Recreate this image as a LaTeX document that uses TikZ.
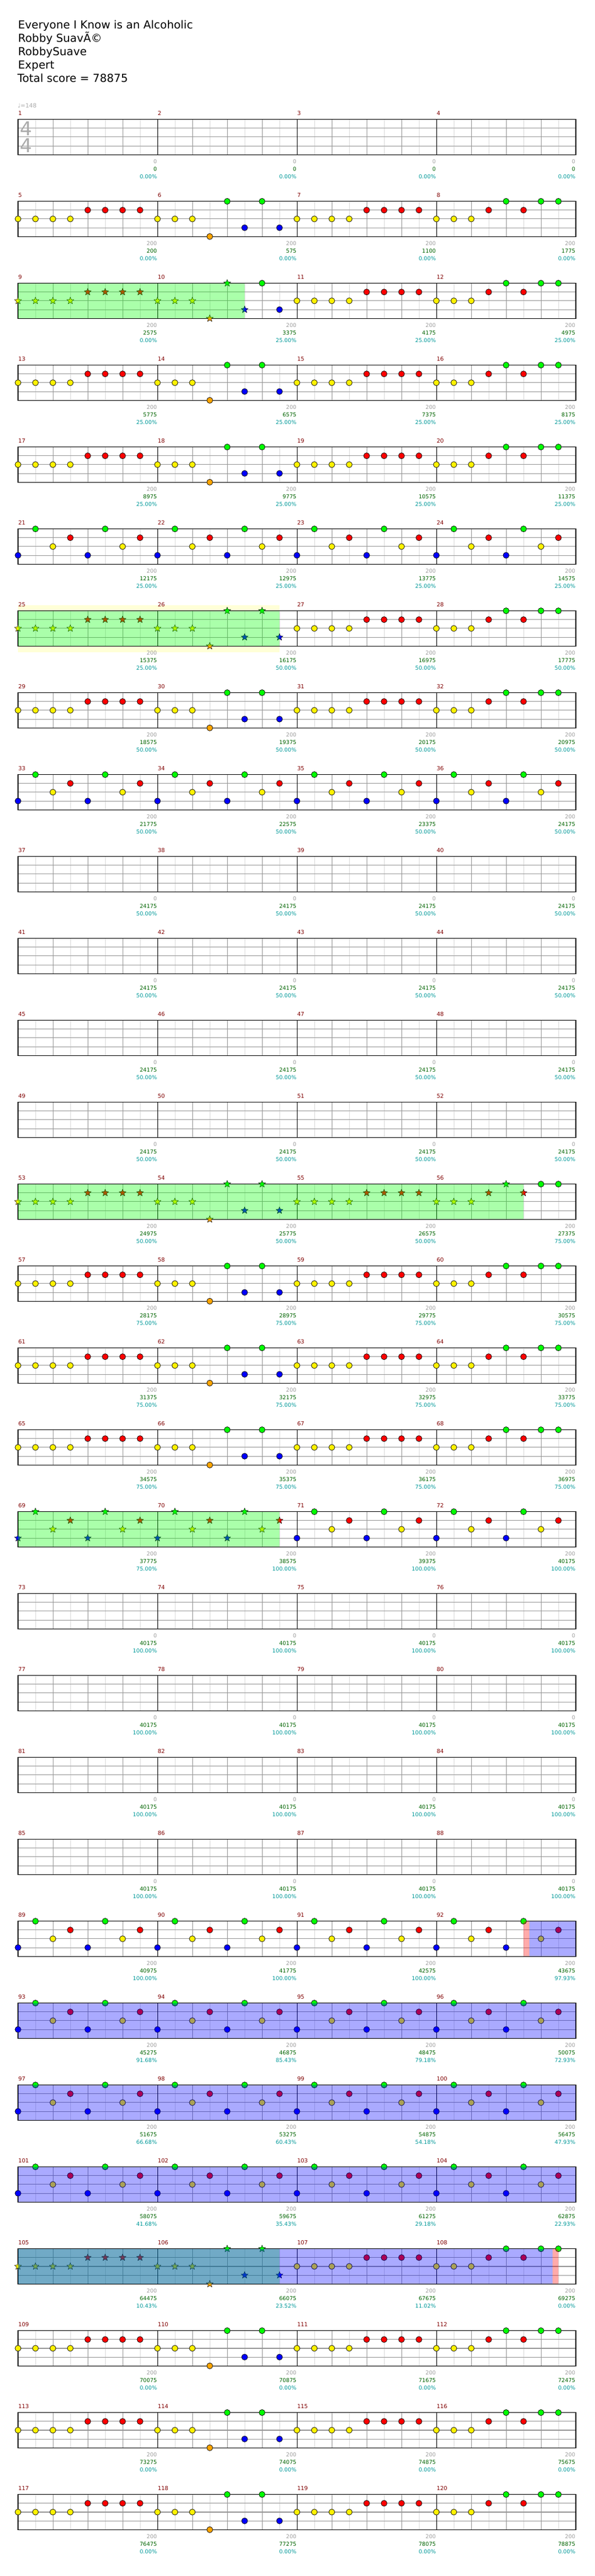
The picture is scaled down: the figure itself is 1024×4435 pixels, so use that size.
\documentclass[tikz,border=0pt]{standalone}
\usepackage{fontspec}
\setmainfont{DejaVu Sans}
\usepackage{tikz}
\usetikzlibrary{shapes.geometric}

\definecolor{barred}{RGB}{128,0,0}
\definecolor{maxgrey}{RGB}{160,160,160}
\definecolor{scoregreen}{RGB}{0,100,0}
\definecolor{pctteal}{RGB}{0,153,153}
\definecolor{gridgrey}{RGB}{150,150,150}
\definecolor{subgrey}{RGB}{218,218,218}
\definecolor{markgrey}{RGB}{170,170,170}
\definecolor{activeyellow}{RGB}{255,255,215}
\colorlet{lane0}{green}
\colorlet{lane1}{red}
\colorlet{lane2}{yellow}
\colorlet{lane3}{blue}
\definecolor{lane4}{RGB}{255,165,0}

% note patterns: eighth/lane
\newcommand{\patA}{0/2,1/2,2/2,3/2,4/1,5/1,6/1,7/1}
\newcommand{\patB}{0/2,1/2,2/2,3/4,4/0,5/3,6/0,7/3}
\newcommand{\patD}{0/2,1/2,2/2,3/1,4/0,5/1,6/0,7/0}
\newcommand{\patE}{0/3,1/0,2/2,3/1,4/3,5/0,6/2,7/1}

% one measure: number, pattern, stars up to, max, score, percent
\newcommand{\measure}[6]{%
  \pgfmathtruncatemacro{\rw}{(#1-1)/4}%
  \pgfmathtruncatemacro{\col}{#1-1-4*\rw}%
  \pgfmathsetmacro{\xl}{31+240*\col}%
  \pgfmathsetmacro{\xr}{\xl+239.3}%
  \pgfmathsetmacro{\yt}{205.6+141*\rw}%
  \pgfmathsetmacro{\yb}{\yt+60.6}%
  \node[barnum] (num#1) at ({\xl+0.3},{\yt-7.3}) {#1};%
  \node[maxlbl] (mx#1) at ({\xr},{\yb+15.4}) {#4};%
  \node[scorelbl] (sc#1) at ({\xr},{\yb+28.4}) {#5};%
  \node[pctlbl] (pc#1) at ({\xr},{\yb+41.6}) {#6\%};%
  \if#2N\else
    \edef\plist{\csname pat#2\endcsname}%
    \foreach \e/\lane in \plist {%
      \pgfmathsetmacro{\nx}{\xl+30*\e}%
      \pgfmathsetmacro{\ny}{\yt+15.15*\lane}%
      \ifnum\e<#3\relax
        \node[stargem, fill=lane\lane] (g#1-\e) at (\nx,\ny) {};%
      \else
        \node[gem, fill=lane\lane] (g#1-\e) at (\nx,\ny) {};%
      \fi
    }%
  \fi
}

\newcommand{\overlayband}[4]{%
  \fill[#1, opacity=0.333] (#3,{205.6+141*#2}) rectangle (#4,{266.2+141*#2});}

\begin{document}
\begin{tikzpicture}[x=1pt, y=-1pt,
    titletext/.style={anchor=base west, inner sep=0pt, font=\fontsize{19}{23}\selectfont},
    tempotext/.style={anchor=base west, inner sep=0pt, text=markgrey, font=\fontsize{10}{11}\selectfont},
    timesig/.style={inner sep=0pt, text=markgrey, font=\fontsize{33}{34}\selectfont},
    barnum/.style={anchor=base west, inner sep=0pt, text=barred, font=\fontsize{9.6}{10}\selectfont},
    maxlbl/.style={anchor=base east, inner sep=0pt, text=maxgrey, font=\fontsize{9.3}{10}\selectfont},
    scorelbl/.style={anchor=base east, inner sep=0pt, text=scoregreen, font=\fontsize{9.3}{10}\selectfont},
    pctlbl/.style={anchor=base east, inner sep=0pt, text=pctteal, font=\fontsize{9.3}{10}\selectfont},
    gem/.style={circle, draw=black, line width=0.7pt, minimum size=10.3pt, inner sep=0pt},
    stargem/.style={star, star points=5, star point ratio=2.3, draw=black, line width=0.5pt, minimum size=12.5pt, inner sep=0pt},
    subline/.style={subgrey, line width=0.8pt},
    beatline/.style={gridgrey, line width=0.9pt},
    laneline/.style={gridgrey, line width=1.1pt},
    barline/.style={black, line width=0.9pt},
    staffbox/.style={black, line width=1.2pt}]
  \useasboundingbox[fill=white] (0,0) rectangle (1024,4435);

  % header
  \node[titletext] (title) at (31,49.3) {Everyone I Know is an Alcoholic};
  \node[titletext] (artist) at (31,72.3) {Robby SuavÃ©};
  \node[titletext] (charter) at (31,95.5) {RobbySuave};
  \node[titletext] (level) at (31,118.5) {Expert};
  \node[titletext] (total) at (30,141.3) {Total score = 78875};
  \node[tempotext] (tempo) at (30.5,185.3) {♩=148};

  % activation highlight, staff itself stays white
  \fill[activeyellow] (31,1041.6) rectangle (481,1123.2);
  \fill[white] (31,1051.6) rectangle (481,1112.2);

  % staves
  \foreach \rw in {0,...,29}{
    \pgfmathsetmacro{\yt}{205.6+141*\rw}
    \pgfmathsetmacro{\yb}{\yt+60.6}
    \foreach \i in {1,3,...,31}
      \draw[subline] ({31+30*\i},\yt) -- ({31+30*\i},\yb);
    \foreach \i in {1,...,15}
      \draw[beatline] ({31+60*\i},\yt) -- ({31+60*\i},\yb);
    \foreach \j in {1,2,3}
      \draw[laneline] (31,{\yt+15.15*\j}) -- (991,{\yt+15.15*\j});
    \foreach \i in {1,2,3}
      \draw[barline] ({31+240*\i},\yt) -- ({31+240*\i},\yb);
    \draw[staffbox] (31,\yt) rectangle (991,\yb);
  }

  \node[timesig] (tsup) at (44.5,221) {4};
  \node[timesig] (tslow) at (44.5,250.5) {4};

  % empty measures
  \foreach \mn in {1,...,4} {\measure{\mn}{N}{0}{0}{0}{0.00}}
  \foreach \mn in {37,...,52} {\measure{\mn}{N}{0}{0}{24175}{50.00}}
  \foreach \mn in {73,...,88} {\measure{\mn}{N}{0}{0}{40175}{100.00}}

  % measures with notes
  \foreach \mn/\pat/\st/\mx/\sc/\pc in {
    5/A/0/200/200/0.00, 6/B/0/200/575/0.00, 7/A/0/200/1100/0.00, 8/D/0/200/1775/0.00,
    9/A/8/200/2575/0.00, 10/B/6/200/3375/25.00, 11/A/0/200/4175/25.00, 12/D/0/200/4975/25.00,
    13/A/0/200/5775/25.00, 14/B/0/200/6575/25.00, 15/A/0/200/7375/25.00, 16/D/0/200/8175/25.00,
    17/A/0/200/8975/25.00, 18/B/0/200/9775/25.00, 19/A/0/200/10575/25.00, 20/D/0/200/11375/25.00,
    21/E/0/200/12175/25.00, 22/E/0/200/12975/25.00, 23/E/0/200/13775/25.00, 24/E/0/200/14575/25.00,
    25/A/8/200/15375/25.00, 26/B/8/200/16175/50.00, 27/A/0/200/16975/50.00, 28/D/0/200/17775/50.00,
    29/A/0/200/18575/50.00, 30/B/0/200/19375/50.00, 31/A/0/200/20175/50.00, 32/D/0/200/20975/50.00,
    33/E/0/200/21775/50.00, 34/E/0/200/22575/50.00, 35/E/0/200/23375/50.00, 36/E/0/200/24175/50.00,
    53/A/8/200/24975/50.00, 54/B/8/200/25775/50.00, 55/A/8/200/26575/50.00, 56/D/6/200/27375/75.00,
    57/A/0/200/28175/75.00, 58/B/0/200/28975/75.00, 59/A/0/200/29775/75.00, 60/D/0/200/30575/75.00,
    61/A/0/200/31375/75.00, 62/B/0/200/32175/75.00, 63/A/0/200/32975/75.00, 64/D/0/200/33775/75.00,
    65/A/0/200/34575/75.00, 66/B/0/200/35375/75.00, 67/A/0/200/36175/75.00, 68/D/0/200/36975/75.00,
    69/E/8/200/37775/75.00, 70/E/8/200/38575/100.00, 71/E/0/200/39375/100.00, 72/E/0/200/40175/100.00,
    89/E/0/200/40975/100.00, 90/E/0/200/41775/100.00, 91/E/0/200/42575/100.00, 92/E/0/200/43675/97.93,
    93/E/0/200/45275/91.68, 94/E/0/200/46875/85.43, 95/E/0/200/48475/79.18, 96/E/0/200/50075/72.93,
    97/E/0/200/51675/66.68, 98/E/0/200/53275/60.43, 99/E/0/200/54875/54.18, 100/E/0/200/56475/47.93,
    101/E/0/200/58075/41.68, 102/E/0/200/59675/35.43, 103/E/0/200/61275/29.18, 104/E/0/200/62875/22.93,
    105/A/8/200/64475/10.43, 106/B/8/200/66075/23.52, 107/A/0/200/67675/11.02, 108/D/0/200/69275/0.00,
    109/A/0/200/70075/0.00, 110/B/0/200/70875/0.00, 111/A/0/200/71675/0.00, 112/D/0/200/72475/0.00,
    113/A/0/200/73275/0.00, 114/B/0/200/74075/0.00, 115/A/0/200/74875/0.00, 116/D/0/200/75675/0.00,
    117/A/0/200/76475/0.00, 118/B/0/200/77275/0.00, 119/A/0/200/78075/0.00, 120/D/0/200/78875/0.00}
    {\measure{\mn}{\pat}{\st}{\mx}{\sc}{\pc}}

  % star power and overdrive bands
  \overlayband{green}{2}{31}{421}
  \overlayband{green}{6}{31}{481}
  \overlayband{green}{13}{31}{901}
  \overlayband{green}{17}{31}{481}
  \overlayband{red}{22}{901}{911}
  \overlayband{blue}{22}{911}{991}
  \overlayband{blue}{23}{31}{991}
  \overlayband{blue}{24}{31}{991}
  \overlayband{blue}{25}{31}{991}
  \overlayband{green}{26}{31}{481}
  \overlayband{blue}{26}{31}{951}
  \overlayband{red}{26}{951}{961}
\end{tikzpicture}
\end{document}
